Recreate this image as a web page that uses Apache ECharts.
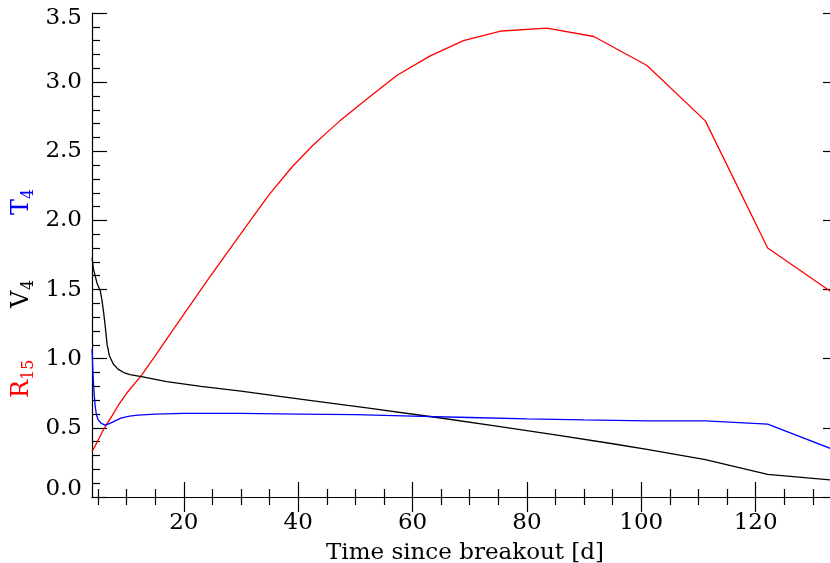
<!DOCTYPE html>
<html>
<head>
<meta charset="utf-8">
<script src="https://cdn.jsdelivr.net/npm/echarts@6/dist/echarts.min.js"></script>
<style>
  html, body { margin: 0; padding: 0; background: #fff; }
  #chart { width: 830px; height: 563px; }
</style>
</head>
<body>
<div id="chart"></div>
<script>
// Ejecta evolution after shock breakout: radius (R15), velocity (V4), temperature (T4)
const xRange = [3.95, 134.4];
const yRange = [0, 3.5];
const xMajorTicks = [20, 40, 60, 80, 100, 120];
const xMinorTicks = [5, 10, 15, 25, 30, 35, 45, 50, 55, 65, 70, 75, 85, 90, 95, 105, 110, 115, 125, 130];
const yMajorTicks = [0, 0.5, 1.0, 1.5, 2.0, 2.5, 3.0, 3.5];
const yMinorTicks = [0.1, 0.2, 0.3, 0.4, 0.6, 0.7, 0.8, 0.9, 1.1, 1.2, 1.3, 1.4, 1.6, 1.7, 1.8, 1.9,
                     2.1, 2.2, 2.3, 2.4, 2.6, 2.7, 2.8, 2.9, 3.1, 3.2, 3.3, 3.4];

// R15 (red)
const radiusTime = [3.96, 4.5, 5.0, 5.5, 6.0, 6.6, 7.5, 8.5, 10, 12.6, 15, 17.3, 20, 24, 28, 32, 35, 39,
                    42.5, 45, 47.3, 52.4, 57.3, 63.1, 68.9, 75.6, 83.5, 91.7, 101, 111.2, 122.1, 134.4];
const radiusValues = [0.33, 0.37, 0.41, 0.45, 0.49, 0.53, 0.59, 0.66, 0.75, 0.88, 1.02, 1.16, 1.32, 1.56,
                      1.79, 2.02, 2.19, 2.39, 2.54, 2.635, 2.72, 2.89, 3.05, 3.19, 3.30, 3.37, 3.39, 3.33,
                      3.12, 2.72, 1.80, 1.45];

// V4 (black)
const velocityTime = [3.96, 4.2, 4.8, 5.4, 5.7, 6.0, 6.3, 6.6, 7.0, 7.7, 8.5, 9.5, 10.6, 12.6, 17, 23, 30,
                      40, 52, 64.3, 75, 85, 95, 101, 111.2, 122.1, 134.4];
const velocityValues = [1.73, 1.65, 1.55, 1.49, 1.42, 1.33, 1.22, 1.10, 1.02, 0.96, 0.925, 0.90, 0.885,
                        0.87, 0.835, 0.80, 0.765, 0.71, 0.645, 0.575, 0.51, 0.45, 0.385, 0.345, 0.27,
                        0.164, 0.118];

// T4 (blue)
const temperatureTime = [3.96, 4.05, 4.15, 4.3, 4.5, 4.7, 5.0, 5.5, 6.2, 7.0, 8.0, 9.0, 10.5, 12, 15, 20,
                         30, 40, 50, 60, 70, 80, 90, 101, 111.2, 122.1, 134.4];
const temperatureValues = [1.07, 0.97, 0.87, 0.76, 0.66, 0.60, 0.56, 0.535, 0.52, 0.53, 0.55, 0.57, 0.585,
                           0.592, 0.60, 0.605, 0.605, 0.60, 0.595, 0.585, 0.575, 0.565, 0.557, 0.55,
                           0.551, 0.527, 0.33];

const FONT = 'DejaVu Serif';
const zip = (xs, ys) => xs.map((x, i) => [x, ys[i]]);

const axisLine = { show: true, lineStyle: { color: '#000', width: 1.2 } };
const hiddenLine = { show: false };
const tickStyle = { color: '#000', width: 1.2 };
const labelFont = { color: '#000', fontFamily: FONT, fontSize: 23 };

function xAxisPair(position, withLabels) {
  return [
    {
      type: 'value', position, min: xRange[0], max: xRange[1],
      axisLine: axisLine,
      axisTick: { show: true, inside: true, length: 15, customValues: xMajorTicks, lineStyle: tickStyle },
      axisLabel: withLabels
        ? Object.assign({ show: true, customValues: xMajorTicks, margin: 15 }, labelFont)
        : { show: false },
      splitLine: { show: false },
      name: withLabels ? 'Time since breakout [d]' : '',
      nameLocation: 'middle', nameGap: 45,
      nameTextStyle: labelFont
    },
    {
      type: 'value', position, min: xRange[0], max: xRange[1],
      axisLine: hiddenLine,
      axisTick: { show: true, inside: true, length: 8, customValues: xMinorTicks, lineStyle: tickStyle },
      axisLabel: { show: false },
      splitLine: { show: false }
    }
  ];
}

// End labels of the value axis sit inside the frame: the lowest is lifted, the highest lowered
function yLabel(v) {
  const s = v.toFixed(1);
  if (v === yRange[0]) return '{lo|' + s + '}';
  if (v === yRange[1]) return '{hi|' + s + '}';
  return s;
}

function yAxisPair(position, withLabels) {
  return [
    {
      type: 'value', position, min: yRange[0], max: yRange[1],
      axisLine: axisLine,
      axisTick: { show: true, inside: true, length: 15, customValues: yMajorTicks, lineStyle: tickStyle },
      axisLabel: withLabels
        ? Object.assign({
            show: true, customValues: yMajorTicks, margin: 10, formatter: yLabel,
            rich: {
              lo: Object.assign({ padding: [0, 0, 16, 0] }, labelFont),
              hi: Object.assign({ padding: [10, 0, 0, 0] }, labelFont)
            }
          }, labelFont)
        : { show: false },
      splitLine: { show: false }
    },
    {
      type: 'value', position, min: yRange[0], max: yRange[1],
      axisLine: hiddenLine,
      axisTick: { show: true, inside: true, length: 8, customValues: yMinorTicks, lineStyle: tickStyle },
      axisLabel: { show: false },
      splitLine: { show: false }
    }
  ];
}

function line(name, xs, ys, color) {
  return {
    name, type: 'line', xAxisIndex: 0, yAxisIndex: 0,
    data: zip(xs, ys), showSymbol: false, smooth: false,
    lineStyle: { color, width: 1.3 }, animation: false
  };
}

// Rotated axis title made of a main letter and a subscript
function subscriptLabel(letter, sub, color, x, y, letterWidth) {
  return {
    type: 'group', x, y, rotation: Math.PI / 2,
    children: [
      { type: 'text', x: 0, y: 0,
        style: { text: letter, fill: color, font: '24px "' + FONT + '"',
                 align: 'left', verticalAlign: 'middle' } },
      { type: 'text', x: letterWidth, y: 6.5,
        style: { text: sub, fill: color, font: '16px "' + FONT + '"',
                 align: 'left', verticalAlign: 'middle' } }
    ]
  };
}

const chart = echarts.init(document.getElementById('chart'), null, { renderer: 'canvas' });
chart.setOption({
  animation: false,
  backgroundColor: '#fff',
  // the frame runs a few pixels past the right edge of the canvas
  grid: { left: 92, top: 13, width: 746, height: 484, containLabel: false, outerBoundsMode: 'none' },
  xAxis: [...xAxisPair('bottom', true), ...xAxisPair('top', false)],
  yAxis: [...yAxisPair('left', true), ...yAxisPair('right', false)],
  series: [
    line('R15', radiusTime, radiusValues, '#ff0000'),
    line('V4', velocityTime, velocityValues, '#000000'),
    line('T4', temperatureTime, temperatureValues, '#0000ff')
  ],
  graphic: [
    subscriptLabel('R', '15', '#ff0000', 22, 398, 18),
    subscriptLabel('V', '4', '#000000', 22, 308, 18),
    subscriptLabel('T', '4', '#0000ff', 22, 215, 16)
  ]
});
</script>
</body>
</html>
